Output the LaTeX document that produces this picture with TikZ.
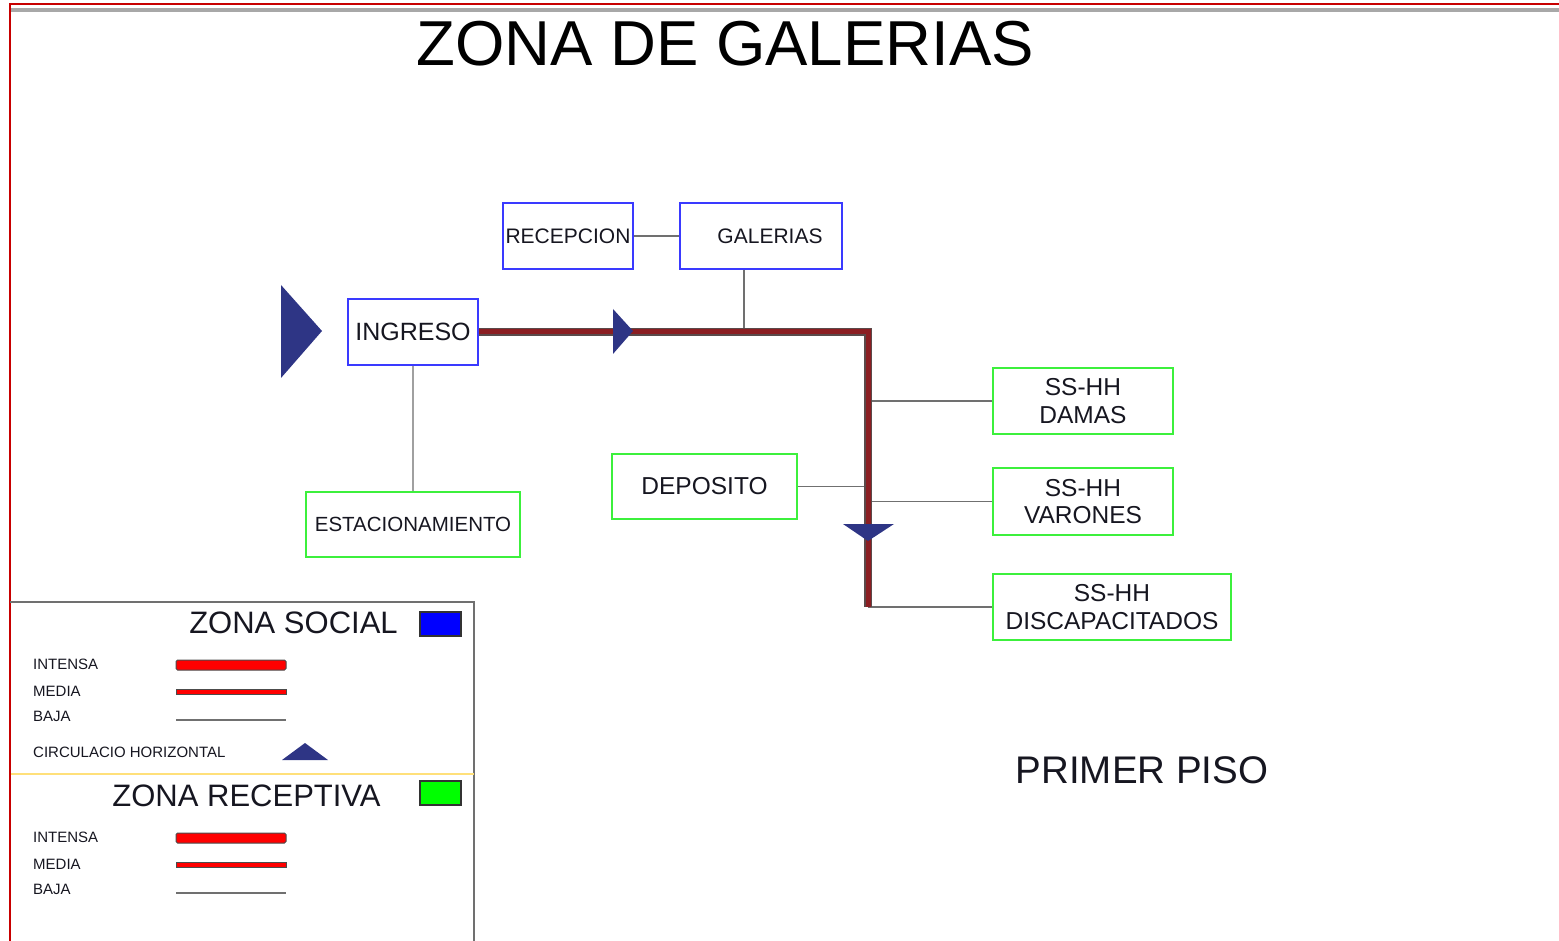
\documentclass[tikz,border=0pt]{standalone}
\usepackage{fontspec}
\setmainfont{Liberation Sans}
\usepackage{tikz}
\usetikzlibrary{positioning}
\definecolor{borde}{HTML}{C80000}
\definecolor{banda}{HTML}{A8A8A8}
\definecolor{azulz}{HTML}{3A3AFF}
\definecolor{verdez}{HTML}{3CF03C}
\definecolor{marino}{HTML}{2E3585}
\definecolor{granate}{HTML}{8B1E22}
\definecolor{filo}{HTML}{5A4A4A}
\definecolor{gris}{HTML}{707070}
\definecolor{grisclaro}{HTML}{A0A0A0}
\definecolor{amarillo}{HTML}{FFE07A}
\definecolor{tinta}{HTML}{161620}

\begin{document}
\begin{tikzpicture}[
  x=1pt,y=-1pt,
  social/.style={draw=azulz,line width=1.6pt,inner sep=0pt,align=center,
                 text=tinta,font=\fontsize{21}{24}\selectfont},
  receptiva/.style={draw=verdez,line width=1.6pt,inner sep=0pt,align=center,
                    text=tinta,font=\fontsize{24.5}{27.5}\selectfont},
  baja/.style={draw=gris,line width=1.4pt},
  flujo/.style={draw=granate,line width=5pt,line join=miter,
                preaction={draw=filo,line width=8pt,line join=miter}},
  item/.style={anchor=west,inner sep=0pt,text=tinta,font=\fontsize{15}{17}\selectfont},
  zona/.style={inner sep=0pt,text=tinta,font=\fontsize{31}{34}\selectfont}
]
\useasboundingbox (0,0) rectangle (1559,941);
% marco
\draw[banda,line width=4pt] (11,10.5) -- (1559,10.5);
\draw[borde,line width=2pt] (10,941) -- (10,4) -- (1559,4);
\node[inner sep=0pt,text=black,font=\fontsize{63.5}{70}\selectfont] (titulo) at (725,44) {ZONA DE GALERIAS};

% recintos
\node[social,minimum width=130pt,minimum height=66pt] (recepcion) at (568,236) {RECEPCION};
\node[social,minimum width=162pt,minimum height=66pt] (galerias) at (761,236) {\hspace*{18pt}GALERIAS};
\node[social,minimum width=130pt,minimum height=66pt,font=\fontsize{25}{27}\selectfont] (ingreso) at (413,332) {\raisebox{-2pt}{INGRESO}};
\node[receptiva,minimum width=214pt,minimum height=65pt,font=\fontsize{20.5}{24}\selectfont] (estacionamiento) at (413,524.5) {ESTACIONAMIENTO};
\node[receptiva,minimum width=185pt,minimum height=65pt] (deposito) at (704.5,486.5) {DEPOSITO};
\node[receptiva,minimum width=180pt,minimum height=66pt] (damas) at (1083,401) {SS-HH\\DAMAS};
\node[receptiva,minimum width=180pt,minimum height=67pt] (varones) at (1083,501.5) {SS-HH\\VARONES};
\node[receptiva,minimum width=238pt,minimum height=66pt] (discap) at (1112,607) {SS-HH\\DISCAPACITADOS};

% circulacion
\coordinate (giro) at (868,332);
\coordinate (fin) at (868,607);
\coordinate (toma) at (744,332);
\draw[baja] (recepcion.east) -- (galerias.west);
\draw[baja] (toma |- galerias.south) -- (toma);
\draw[grisclaro,line width=2pt] (ingreso.south) -- (estacionamiento.north);
\draw[baja] (deposito.east) -- (deposito.east -| giro);
\draw[baja] (damas.west) -- (damas.west -| giro);
\draw[baja] (varones.west) -- (varones.west -| giro);
\draw[baja] (discap.west -| giro) -- (discap.west);
\draw[flujo] (ingreso.east) -- (giro) -- (fin);
\fill[marino] (281,285) -- (322,331) -- (281,378) -- cycle;
\fill[marino] (613,309) -- (633,331) -- (613,354) -- cycle;
\fill[marino] (843,524) -- (894,524) -- (868,541) -- cycle;

% leyenda
\draw[gris,line width=1.4pt] (10,602) -- (474,602) -- (474,941);
\draw[amarillo,line width=1.6pt] (11,774) -- (474,774);
\node[zona] (zsocial) at (293.5,623) {ZONA SOCIAL};
\draw[black!80,fill=blue,line width=1.2pt] (420,612) rectangle (461,636);
\node[item] (si) at (33,664) {INTENSA};
\node[item] (sm) at (33,691) {MEDIA};
\node[item] (sb) at (33,716) {BAJA};
\node[item] (sc) at (33,752) {CIRCULACIO HORIZONTAL};
\draw[black!70,fill=red,line width=1pt,rounded corners=1.5pt] (176,660) rectangle (286,670);
\draw[black!70,fill=red,line width=1pt] (176,689.5) rectangle (286,694.5);
\draw[gris,line width=1.4pt] (176,720) -- (286,720);
\fill[marino] (282,760) -- (305,743) -- (328,760) -- cycle;
\node[zona] (zreceptiva) at (246.5,796) {ZONA RECEPTIVA};
\draw[black!80,fill=green,line width=1.2pt] (420,781) rectangle (461,805);
\node[item] (ri) at (33,837) {INTENSA};
\node[item] (rm) at (33,864) {MEDIA};
\node[item] (rb) at (33,889) {BAJA};
\draw[black!70,fill=red,line width=1pt,rounded corners=1.5pt] (176,833) rectangle (286,843);
\draw[black!70,fill=red,line width=1pt] (176,862.5) rectangle (286,867.5);
\draw[gris,line width=1.4pt] (176,893) -- (286,893);

\node[inner sep=0pt,text=tinta,font=\fontsize{38.5}{42}\selectfont] (piso) at (1142,770) {PRIMER PISO};
\end{tikzpicture}
\end{document}
